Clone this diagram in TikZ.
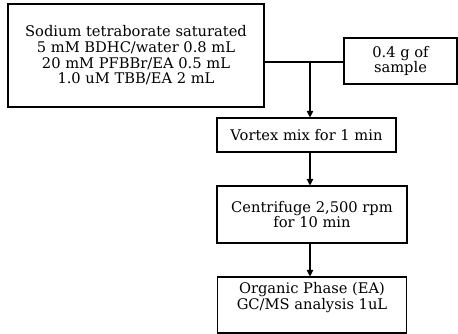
\documentclass[tikz,border=0pt]{standalone}
\usepackage{fontspec}
\setmainfont{DejaVu Serif}
\usetikzlibrary{arrows.meta}

\begin{document}
\begin{tikzpicture}[
  x=0.75pt, y=-0.75pt,
  font=\fontsize{11}{11.8}\selectfont,
  step box/.style={rectangle, draw=black, line width=0.8pt, fill=white,
                   align=center, inner sep=2pt},
  flow/.style={-{Triangle[length=5pt, width=5pt]}, line width=0.8pt, draw=black},
  link/.style={line width=0.8pt, draw=black},
]
\useasboundingbox (0,0) rectangle (458,333);

% the arrows all run down one line, a little right of the boxes' centres
\def\colA{136}
\def\colB{400.5}
\def\colC{306.5}
\def\colD{312}
\def\colArrow{310}

% reagents and sample, joined by one horizontal line
\node[step box, minimum width=192pt, minimum height=77.25pt] (reagents) at (\colA,55.5)
  {Sodium tetraborate saturated\\ 5 mM BDHC/water 0.8 mL\\ 20 mM PFBBr/EA 0.5 mL\\ 1.0 uM TBB/EA 2 mL};
\node[step box, minimum width=84.75pt, minimum height=34.5pt] (sample) at (\colB,61)
  {0.4 g of\\ sample};

% steps of the preparation
\node[step box, minimum width=134.25pt, minimum height=25.5pt] (vortex) at (\colC,135)
  {Vortex mix for 1 min};
\node[step box, minimum width=142.5pt, minimum height=42.75pt] (centri) at (\colD,214.5)
  {Centrifuge 2,500 rpm\\ for 10 min};
\node[step box, minimum width=141.75pt, minimum height=42pt] (organic) at (\colD,305)
  {Organic Phase (EA)\\ GC/MS analysis 1uL\\[2pt]};

\coordinate (join) at (\colArrow,62);

\draw[link] (reagents.east |- join) -- (sample.west |- join);
\draw[flow] (join) -- (join |- vortex.north);
\draw[flow] (join |- vortex.south) -- (join |- centri.north);
\draw[flow] (join |- centri.south) -- (join |- organic.north);

\end{tikzpicture}
\end{document}
